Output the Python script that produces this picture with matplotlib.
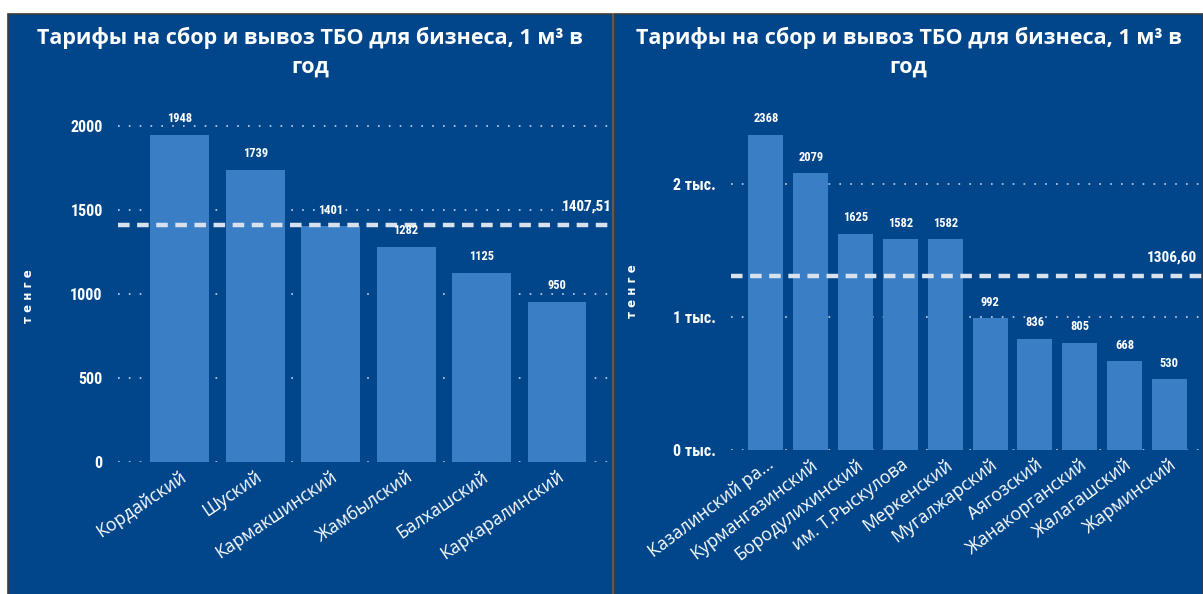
import matplotlib
matplotlib.use("Agg")
import matplotlib.pyplot as plt
from matplotlib.patches import Rectangle

# ── Data ──────────────────────────────────────────────────────────────────────
left_districts = ["Кордайский", "Шуский", "Кармакшинский", "Жамбылский",
                  "Балхашский", "Каркаралинский"]
left_values = [1948, 1739, 1401, 1282, 1125, 950]
left_mean = 1407.51
left_ticks = [0, 500, 1000, 1500, 2000]
left_ticklabels = ["0", "500", "1000", "1500", "2000"]

right_districts = ["Казалинский ра...", "Курмангазинский", "Бородулихинский",
                   "им. Т.Рыскулова", "Меркенский", "Мугалжарский", "Аягозский",
                   "Жанакорганский", "Жалагашский", "Жарминский"]
right_values = [2368, 2079, 1625, 1582, 1582, 992, 836, 805, 668, 530]
right_mean = 1306.60
right_ticks = [0, 1000, 2000]
right_ticklabels = ["0 тыс.", "1 тыс.", "2 тыс."]

TITLE = "Тарифы на сбор и вывоз ТБО для бизнеса, 1 м³ в\nгод"

# ── Style ─────────────────────────────────────────────────────────────────────
PANEL = "#01468a"
BAR = "#3a7fc5"
WHITE = "#ffffff"
MEAN_C = "#d8e2ee"
NARROW = ["Roboto Condensed", "Liberation Sans Narrow", "Roboto", "DejaVu Sans"]
W, H = 1203, 594

fig = plt.figure(figsize=(W / 100, H / 100), dpi=100)
fig.patch.set_facecolor("white")


def px_box(x0, y0, x1, y1):
    """pixel box (top-left origin) -> figure fraction [l, b, w, h]"""
    return [x0 / W, 1 - y1 / H, (x1 - x0) / W, (y1 - y0) / H]


def draw_panel(px0, px1, ax_box, names, values, mean, ticks, ticklabels,
               ylim, xlim, mean_label, label_x, ylab_x, ylab_y, rot):
    # panel background
    l, b, w, h = px_box(px0, 14, px1, H + 2)
    fig.patches.append(Rectangle((l, b), w, h, transform=fig.transFigure,
                                 facecolor=PANEL, edgecolor="#3c3c3c",
                                 linewidth=1.2, zorder=-5))
    fig.text((px0 + px1) / 2 / W, 1 - 27 / H, TITLE, ha="center", va="top",
             color=WHITE, fontsize=15.5, fontweight="bold", family="Open Sans",
             linespacing=1.45)

    ax = fig.add_axes(px_box(*ax_box))
    ax.set_facecolor("none")
    x = range(len(values))
    bars = ax.bar(x, values, width=0.78, color=BAR, zorder=2)
    for rect, v in zip(bars, values):
        ax.text(rect.get_x() + rect.get_width() / 2, v + ylim[1] * 0.028, str(v),
                ha="center", va="bottom", color=WHITE, fontsize=9,
                fontweight="bold", family=NARROW, fontstretch="condensed",
                zorder=4)

    ax.axhline(mean, color=MEAN_C, linestyle=(0, (2.6, 1.7)), linewidth=3.2,
               zorder=3)
    ax.text(label_x, mean + ylim[1] * 0.035, mean_label, ha="right",
            va="bottom", color=WHITE, fontsize=11, fontweight="bold",
            family=NARROW, fontstretch="condensed", zorder=4)

    ax.set_ylim(*ylim)
    ax.set_xlim(*xlim)
    ax.set_yticks(ticks)
    ax.set_yticklabels(ticklabels, color=WHITE, fontsize=11.5, fontweight="bold",
                       family=NARROW, fontstretch="condensed")
    ax.set_xticks(list(x))
    ax.set_xticklabels(names, rotation=rot, ha="right", rotation_mode="anchor",
                       color=WHITE, fontsize=12.8, family="Open Sans")
    ax.tick_params(length=0, pad=11, axis="y")
    ax.tick_params(length=0, pad=4, axis="x")
    ax.grid(axis="y", color="#c8d4e4", linestyle=(0, (1, 5.5)), linewidth=1.2,
            zorder=1)
    for s in ax.spines.values():
        s.set_visible(False)

    fig.text(ylab_x / W, 1 - ylab_y / H, "т е н г е", rotation=90,
             ha="center", va="center", color=WHITE, fontsize=8.5,
             fontweight="bold", family="DejaVu Sans")
    return ax


# left chart: 0 at y=462, 2000 at y=126
draw_panel(8, 612, (118, 109, 612, 462), left_districts, left_values,
           left_mean, left_ticks, left_ticklabels, ylim=(0, 2100),
           xlim=(-0.82, 5.73), mean_label="1407,51", label_x=5.73,
           ylab_x=28, ylab_y=296, rot=34)

# right chart: 0 at y=450, 2 тыс. at y=184
draw_panel(614, 1203, (731, 117, 1203, 450), right_districts, right_values,
           right_mean, right_ticks, right_ticklabels, ylim=(0, 2500),
           xlim=(-0.78, 9.75), mean_label="1306,60", label_x=9.62,
           ylab_x=633, ylab_y=291, rot=37)

fig.savefig("out.png", dpi=100, facecolor=fig.get_facecolor())
